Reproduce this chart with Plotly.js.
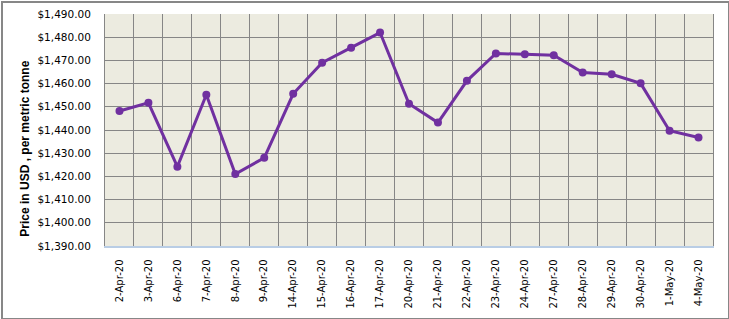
<!DOCTYPE html>
<html>
<head>
<meta charset="utf-8">
<script src="https://cdn.plot.ly/plotly-3.0.1.min.js"></script>
<style>
html,body{margin:0;padding:0;background:#fff;}
#wrap{position:absolute;left:1px;top:1px;width:725px;height:315px;border:2px solid #878787;overflow:hidden;}
#chart{position:absolute;left:-3px;top:-3px;width:729px;height:319px;}
</style>
</head>
<body>
<div id="wrap"><div id="chart"></div></div>
<script>
const dates = ["2-Apr-20","3-Apr-20","6-Apr-20","7-Apr-20","8-Apr-20","9-Apr-20","14-Apr-20","15-Apr-20","16-Apr-20","17-Apr-20","20-Apr-20","21-Apr-20","22-Apr-20","23-Apr-20","24-Apr-20","27-Apr-20","28-Apr-20","29-Apr-20","30-Apr-20","1-May-20","4-May-20"];
const prices = [1448.2,1451.7,1424.2,1455.2,1421.0,1428.0,1455.6,1469.0,1475.5,1482.0,1451.3,1443.2,1461.2,1473.0,1472.6,1472.2,1464.8,1464.0,1460.1,1439.7,1436.8];
const yTicks = [1390,1400,1410,1420,1430,1440,1450,1460,1470,1480,1490];
const yTickText = yTicks.map(v => "$" + v.toLocaleString("en-US",{minimumFractionDigits:2, maximumFractionDigits:2}));
const yTitle = "Price in USD , per metric tonne";

const trace = {
  x: dates, y: prices, type: "scatter", mode: "lines+markers",
  line: {color: "#7030a0", width: 3},
  marker: {color: "#7030a0", size: 8},
  hoverinfo: "x+y"
};
const layout = {
  width: 729, height: 319,
  margin: {l: 105, r: 16, t: 14, b: 73},
  paper_bgcolor: "rgba(0,0,0,0)",
  plot_bgcolor: "#ecebe0",
  showlegend: false,
  font: {family: "DejaVu Sans", size: 10, color: "#000"},
  xaxis: {
    type: "category",
    tickson: "boundaries",
    tickangle: -90,
    ticks: "",
    showgrid: true, gridcolor: "#868686", gridwidth: 1,
    showline: true, linecolor: "#b9cde5", linewidth: 1.5,
    tickfont: {family: "DejaVu Sans", size: 10},
    ticklabelstandoff: 8,
    range: [-0.5, 20.5],
    fixedrange: true
  },
  yaxis: {
    range: [1390, 1490],
    tickmode: "array", tickvals: yTicks, ticktext: yTickText,
    showgrid: true, gridcolor: "#868686", gridwidth: 1,
    showline: true, linecolor: "#868686", linewidth: 1, mirror: true,
    zeroline: false,
    ticks: "",
    ticklabelstandoff: 11,
    tickfont: {family: "DejaVu Sans", size: 10.5},
    fixedrange: true
  },
  annotations: [{
    text: yTitle, textangle: -90, showarrow: false,
    xref: "paper", yref: "paper", x: -0.133, y: 0.42,
    xanchor: "center", yanchor: "middle",
    font: {family: "Liberation Sans", size: 12, weight: "bold", color: "#000"}
  }]
};
Plotly.newPlot("chart", [trace], layout, {displayModeBar: false, staticPlot: true});
</script>
</body>
</html>
